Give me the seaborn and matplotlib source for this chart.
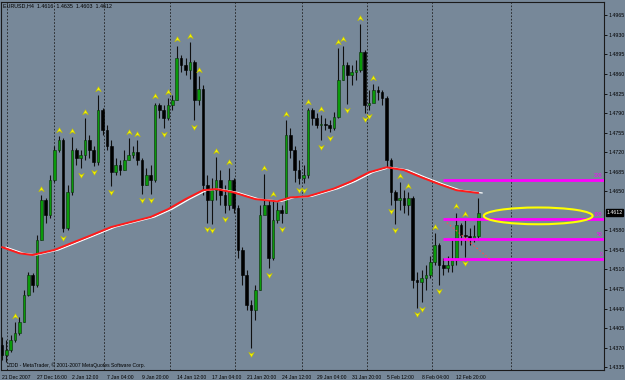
import matplotlib
matplotlib.use('Agg')
import numpy as np
import pandas as pd
import seaborn as sns
import matplotlib.pyplot as plt
from matplotlib.patches import Ellipse
from matplotlib.path import Path
from matplotlib import transforms

sns.set_style('white')
plt.rcParams['font.family'] = ['Liberation Sans', 'DejaVu Sans']
fs = 3.6

# EURUSD H4 (precio)
open0 = 1.4374
closes = [1.4357, 1.4366, 1.4383, 1.4396, 1.4416, 1.4464, 1.4500, 1.4482, 1.4562, 1.4634,
          1.4607, 1.4670, 1.4724, 1.4741, 1.4584, 1.4648, 1.4724, 1.4709, 1.4715, 1.4741,
          1.4724, 1.4702, 1.4795, 1.4759, 1.4732, 1.4684, 1.4697, 1.4688, 1.4706, 1.4715,
          1.4720, 1.4706, 1.4661, 1.4679, 1.4670, 1.4804, 1.4795, 1.4781, 1.4804, 1.4813,
          1.4888, 1.4876, 1.4867, 1.4881, 1.4813, 1.4834, 1.4661, 1.4634, 1.4652, 1.4670,
          1.4643, 1.4625, 1.4670, 1.4620, 1.4545, 1.4500, 1.4446, 1.4437, 1.4473, 1.4607,
          1.4625, 1.4530, 1.4598, 1.4616, 1.4612, 1.4750, 1.4724, 1.4688, 1.4673, 1.4679,
          1.4795, 1.4781, 1.4768, 1.4770, 1.4768, 1.4763, 1.4783, 1.4849, 1.4876, 1.4858,
          1.4863, 1.4867, 1.4899, 1.4804, 1.4809, 1.4831, 1.4827, 1.4817, 1.4706, 1.4648,
          1.4634, 1.4638, 1.4625, 1.4638, 1.4491, 1.4487, 1.4494, 1.4500, 1.4523, 1.4553,
          1.4518, 1.4512, 1.4518, 1.4527, 1.4589, 1.4571, 1.4570, 1.4566, 1.4570, 1.4612]
highs = [1.4389, 1.4383, 1.4392, 1.4416, 1.4425, 1.4473, 1.4505, 1.4503, 1.4571, 1.4643,
         1.4638, 1.4679, 1.4732, 1.4749, 1.4745, 1.4661, 1.4747, 1.4727, 1.4724, 1.4781,
         1.4750, 1.4732, 1.4822, 1.4800, 1.4768, 1.4741, 1.4709, 1.4706, 1.4724, 1.4745,
         1.4732, 1.4741, 1.4710, 1.4691, 1.4697, 1.4809, 1.4809, 1.4804, 1.4817, 1.4822,
         1.4911, 1.4894, 1.4888, 1.4917, 1.4885, 1.4856, 1.4840, 1.4679, 1.4673, 1.4711,
         1.4688, 1.4661, 1.4691, 1.4673, 1.4625, 1.4550, 1.4509, 1.4455, 1.4482, 1.4625,
         1.4681, 1.4634, 1.4634, 1.4630, 1.4625, 1.4777, 1.4763, 1.4732, 1.4706, 1.4697,
         1.4799, 1.4799, 1.4790, 1.4786, 1.4781, 1.4777, 1.4792, 1.4906, 1.4911, 1.4881,
         1.4876, 1.4885, 1.4949, 1.4903, 1.4831, 1.4842, 1.4838, 1.4831, 1.4820, 1.4710,
         1.4652, 1.4666, 1.4652, 1.4648, 1.4641, 1.4505, 1.4509, 1.4518, 1.4535, 1.4575,
         1.4557, 1.4530, 1.4535, 1.4562, 1.4612, 1.4593, 1.4598, 1.4584, 1.4589, 1.4638]
lows = [1.4348, 1.4344, 1.4362, 1.4380, 1.4392, 1.4416, 1.4462, 1.4469, 1.4478, 1.4562,
        1.4594, 1.4602, 1.4666, 1.4720, 1.4577, 1.4580, 1.4643, 1.4697, 1.4691, 1.4706,
        1.4709, 1.4695, 1.4697, 1.4750, 1.4724, 1.4659, 1.4679, 1.4679, 1.4688, 1.4706,
        1.4709, 1.4697, 1.4645, 1.4661, 1.4645, 1.4666, 1.4781, 1.4763, 1.4777, 1.4795,
        1.4813, 1.4863, 1.4858, 1.4852, 1.4777, 1.4804, 1.4643, 1.4594, 1.4591, 1.4634,
        1.4625, 1.4611, 1.4616, 1.4612, 1.4530, 1.4482, 1.4437, 1.4369, 1.4419, 1.4473,
        1.4612, 1.4512, 1.4527, 1.4594, 1.4594, 1.4612, 1.4709, 1.4666, 1.4663, 1.4664,
        1.4673, 1.4768, 1.4763, 1.4741, 1.4759, 1.4757, 1.4759, 1.4781, 1.4849, 1.4806,
        1.4840, 1.4849, 1.4863, 1.4790, 1.4795, 1.4813, 1.4813, 1.4804, 1.4691, 1.4625,
        1.4592, 1.4616, 1.4612, 1.4607, 1.4477, 1.4441, 1.4451, 1.4473, 1.4494, 1.4518,
        1.4482, 1.4500, 1.4505, 1.4505, 1.4518, 1.4553, 1.4532, 1.4553, 1.4559, 1.4562]

# media movil (barra, precio)
ma_bar = [0, 4, 7, 12, 20, 25, 30, 34, 38, 42, 46, 49, 53, 58, 63, 66, 70, 76, 80, 84,
          88, 92, 96, 100, 104, 109]
ma_val = [1.4550, 1.4539, 1.4536, 1.4545, 1.4570, 1.4586, 1.4596, 1.4604, 1.4618, 1.4636,
          1.4652, 1.4654, 1.4648, 1.4636, 1.4632, 1.4639, 1.4641, 1.4655, 1.4668, 1.4684,
          1.4693, 1.4688, 1.4675, 1.4663, 1.4652, 1.4647]

# fractales
frac_up = [3, 9, 13, 16, 19, 22, 29, 31, 35, 38, 40, 43, 45, 49, 52, 60, 62, 65, 70, 73,
           77, 78, 82, 85, 91, 93, 99, 104, 106]
frac_dn = [14, 18, 21, 25, 32, 34, 37, 44, 47, 48, 51, 57, 61, 64, 68, 69, 73, 75, 79, 83,
           84, 89, 90, 95, 96, 100, 106]

# separadores de periodo
separadores = [1.1, 11.9, 23.3, 38.4, 53.3, 68.6, 83.5, 98.4, 116.5]

tick_bars = [0, 8, 16, 24, 32, 40, 48, 56, 64, 72, 80, 88, 96, 104]
tick_labels = ['21 Dec 2007', '27 Dec 16:00', '2 Jan 12:00', '7 Jan 04:00', '9 Jan 20:00',
               '14 Jan 12:00', '17 Jan 04:00', '21 Jan 20:00', '24 Jan 12:00', '29 Jan 04:00',
               '31 Jan 20:00', '5 Feb 12:00', '8 Feb 04:00', '12 Feb 20:00']
precios_eje = [1.4965, 1.4930, 1.4895, 1.4860, 1.4825, 1.4790, 1.4755, 1.4720, 1.4685,
               1.4650, 1.4580, 1.4545, 1.4510, 1.4475, 1.4440, 1.4405, 1.4370, 1.4335]

# niveles fibo
fibo_nombres = ['200', '100', '50', '0']
fibo_precios = [1.4671, 1.4600, 1.45645, 1.4529]
fibo_inicio = 100.9
linea_roja = ([101.8, 111.7], [1.4594, 1.4528])
elipse = (122.7, 1.4606, 24.9, 0.0030)

ultimo = 1.4612
cabecera = 'EURUSD,H4  1.4616  1.4635  1.4603  1.4612'

# ------------------------------------------------------------------------------
df = pd.DataFrame({'c': closes, 'h': highs, 'l': lows})
df['o'] = [open0] + closes[:-1]
df['x'] = np.arange(len(df))

fondo = '#778899'
fig = plt.figure(figsize=(6.25, 3.8), dpi=100, facecolor=fondo)
ax = fig.add_axes([1 / 625, 10 / 380, 603 / 625, 368 / 380], facecolor=fondo)

for s in ax.spines.values():
    s.set_color('#1a1a1a')
    s.set_linewidth(0.8)

for sx in separadores:
    ax.axvline(sx, color='#1e1e1e', lw=0.6, ls=(0, (2, 2)), zorder=1)

# velas
ax.vlines(df['x'], df['l'], df['h'], color='#101010', lw=0.8, zorder=2)
sube = df['c'] >= df['o']
cuerpo = (df['c'] - df['o']).abs().clip(lower=0.00025)
base = df[['o', 'c']].min(axis=1)
ax.bar(df['x'][sube], cuerpo[sube], bottom=base[sube], width=0.6,
       color='#0a9a0a', edgecolor='#0c2a0c', linewidth=0.4, zorder=3)
ax.bar(df['x'][~sube], cuerpo[~sube], bottom=base[~sube], width=0.6,
       color='#000000', edgecolor='#000000', linewidth=0.4, zorder=3)

# media movil roja con borde blanco
ma = pd.DataFrame({'bar': ma_bar, 'val': ma_val})
ax.plot(ma['bar'] + 0.9, ma['val'], color='white', lw=0.9, zorder=4)
sns.lineplot(data=ma, x='bar', y='val', color='#ff1a1a', lw=1.4, ax=ax, zorder=5)

# fractales
flecha_up = Path([(0, 1), (1, -0.8), (0, -0.2), (-1, -0.8), (0, 1)],
                 [Path.MOVETO, Path.LINETO, Path.LINETO, Path.LINETO, Path.CLOSEPOLY])
flecha_dn = Path([(0, -1), (1, 0.8), (0, 0.2), (-1, 0.8), (0, -1)],
                 [Path.MOVETO, Path.LINETO, Path.LINETO, Path.LINETO, Path.CLOSEPOLY])
ax.scatter(frac_up, df['h'].iloc[frac_up] + 0.0011, marker=flecha_up, s=17,
           color='#f4f400', edgecolors='#b8b800', linewidths=0.3, zorder=6)
ax.scatter(frac_dn, df['l'].iloc[frac_dn] - 0.0011, marker=flecha_dn, s=17,
           color='#f4f400', edgecolors='#b8b800', linewidths=0.3, zorder=6)

# fibo
xmax = 137.76
for nombre, p in zip(fibo_nombres, fibo_precios):
    ax.hlines(p, fibo_inicio, xmax, color='#ff00ff', lw=2, zorder=4)
    ax.text(xmax - 0.4, p + 0.00035, nombre, color='#ff00ff', fontsize=fs,
            ha='right', va='bottom', zorder=7)
ax.plot(linea_roja[0], linea_roja[1], color='#ff5050', lw=0.8, ls=(0, (1.5, 2)), zorder=4)
ax.add_patch(Ellipse((elipse[0], elipse[1]), elipse[2], elipse[3], fill=False,
                     edgecolor='#ffff00', lw=1.5, zorder=6))

ax.set_xlim(-0.23, xmax)
ax.set_ylim(1.4330, 1.4989)
ax.set_xlabel('')
ax.set_ylabel('')

ax.yaxis.tick_right()
ax.set_yticks(precios_eje)
ax.set_yticklabels(['%.4f' % p for p in precios_eje], fontsize=3.8, color='black')
ax.tick_params(axis='y', direction='out', length=2, width=0.6, pad=1.2, colors='black')
ax.set_xticks(tick_bars)
ax.set_xticklabels(tick_labels, fontsize=fs, ha='left', color='black')
ax.tick_params(axis='x', direction='out', length=3, width=0.6, pad=0.5, colors='black')

tr = transforms.blended_transform_factory(ax.transAxes, ax.transData)
ax.text(1.004, ultimo, '%.4f' % ultimo, transform=tr, fontsize=3.8, color='white',
        va='center', ha='left',
        bbox=dict(boxstyle='square,pad=0.15', facecolor='black', edgecolor='black'))

fig.text(3 / 625, 1 - 6 / 380, cabecera, fontsize=3.9, color='black', va='center')
fig.text(8 / 625, 1 - 365 / 380, 'ZDD - MetaTrader, \u00a9 2001-2007 MetaQuotes Software Corp.',
         fontsize=fs, color='black', va='center')

fig.savefig('out.png', dpi=100, facecolor=fondo)
